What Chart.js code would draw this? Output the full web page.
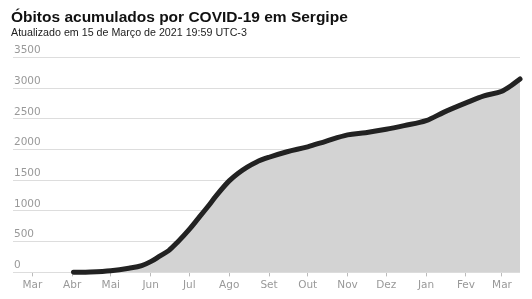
<!DOCTYPE html>
<html>
<head>
<meta charset="utf-8">
<title>Óbitos acumulados por COVID-19 em Sergipe</title>
<script src="https://cdn.jsdelivr.net/npm/chart.js@4.4.0/dist/chart.umd.min.js"></script>
<style>
  html, body { margin: 0; padding: 0; background: #fff; }
  #wrap { width: 532px; height: 299px; }
</style>
</head>
<body>
<div id="wrap"><canvas id="chart"></canvas></div>
<script>
// x values are days counted from 1 Mar 2020
var days = [32, 45, 61, 75, 85, 92, 99, 106, 113, 122, 129, 136, 143, 153, 160, 167, 174, 184, 198, 214, 228, 245, 259, 275, 289, 306, 320, 337, 351, 365, 372, 379];
var deaths = [2, 8, 28, 68, 110, 175, 265, 355, 495, 700, 880, 1060, 1250, 1490, 1615, 1715, 1795, 1875, 1965, 2045, 2135, 2240, 2275, 2330, 2390, 2470, 2610, 2760, 2875, 2950, 3040, 3150];

var monthDays = [0, 31, 61, 92, 122, 153, 184, 214, 245, 275, 306, 337, 365];
var monthLabels = ["Mar", "Abr", "Mai", "Jun", "Jul", "Ago", "Set", "Out", "Nov", "Dez", "Jan", "Fev", "Mar"];
var yTicks = [0, 500, 1000, 1500, 2000, 2500, 3000, 3500];

var points = [];
for (var i = 0; i < days.length; i++) {
  points.push({ x: days[i], y: deaths[i] });
}

var tickFont = { family: "DejaVu Sans", size: 10.5 };

new Chart(document.getElementById("chart"), {
  type: "line",
  data: {
    datasets: [{
      data: points,
      borderColor: "#222",
      borderWidth: 5,
      borderCapStyle: "round",
      backgroundColor: "#d3d3d3",
      fill: "origin",
      pointRadius: 0,
      cubicInterpolationMode: "monotone",
      clip: 6
    }]
  },
  options: {
    responsive: true,
    maintainAspectRatio: false,
    animation: false,
    events: [],
    layout: { padding: { left: 11, right: 12, top: 0, bottom: 4 } },
    plugins: {
      legend: { display: false },
      tooltip: { enabled: false },
      title: {
        display: true,
        align: "start",
        text: "Óbitos acumulados por COVID-19 em Sergipe",
        color: "#111",
        font: { family: "Liberation Sans", size: 15.5, weight: "bold" },
        padding: { top: 8, bottom: 0 }
      },
      subtitle: {
        display: true,
        align: "start",
        text: "Atualizado em 15 de Março de 2021 19:59 UTC-3",
        color: "#222",
        font: { family: "Liberation Sans", size: 10.7 },
        padding: { top: 0, bottom: 18 }
      }
    },
    scales: {
      x: {
        type: "linear",
        min: -15,
        max: 379,
        afterBuildTicks: function (axis) {
          axis.ticks = monthDays.map(function (d) { return { value: d }; });
        },
        ticks: {
          autoSkip: false,
          maxRotation: 0,
          color: "#999",
          font: tickFont,
          padding: 3,
          callback: function (value, index) { return monthLabels[index]; }
        },
        grid: { drawOnChartArea: false, drawTicks: true, tickLength: 4, color: "#bbb" },
        border: { display: false }
      },
      y: {
        min: 0,
        max: 3500,
        afterBuildTicks: function (axis) {
          axis.ticks = yTicks.map(function (v) { return { value: v }; });
        },
        ticks: {
          mirror: true,
          padding: 1,
          labelOffset: -7,
          color: "#999",
          font: tickFont,
          callback: function (value) { return String(value); }
        },
        grid: { color: "#ddd", drawTicks: false },
        border: { display: false }
      }
    }
  }
});
</script>
</body>
</html>
